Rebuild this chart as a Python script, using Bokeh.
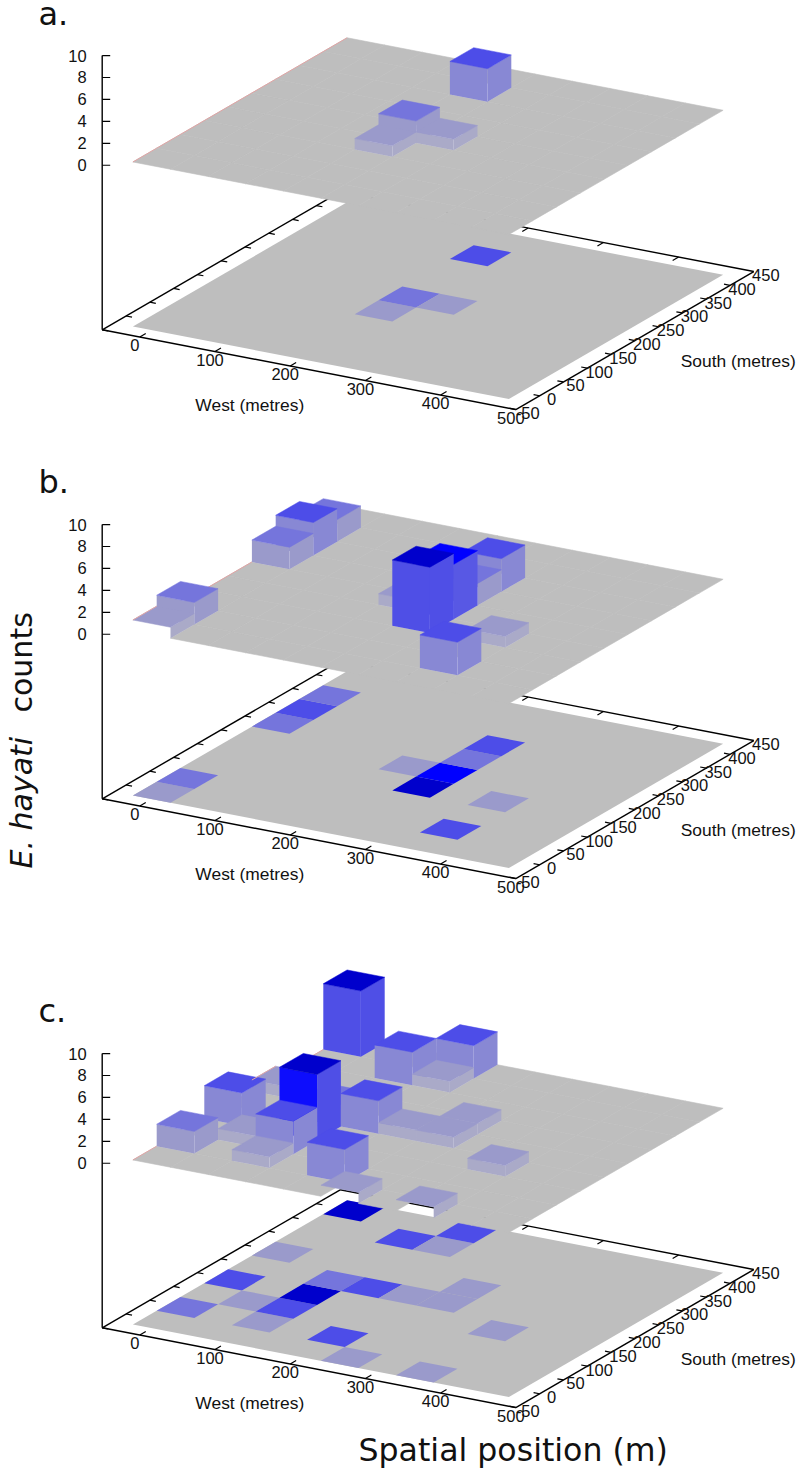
from math import pi
from bokeh.embed import file_html
from bokeh.resources import INLINE
from bokeh.plotting import figure
from bokeh.models import Range1d
from bokeh.core.properties import value

# ---- data: E. hayati counts per 50 m grid cell
west_a = [200, 200, 200, 250]
south_a = [150, 200, 350, 200]
count_a = [1, 2, 3, 1]

west_b = [0, 0, 0, 0, 0, 200, 250, 250, 250, 250, 350, 350]
south_b = [0, 50, 250, 300, 350, 200, 150, 200, 250, 300, 50, 150]
count_b = [1, 2, 2, 3, 2, 1, 6, 5, 2, 3, 3, 1]

west_c = [0, 0, 0, 0, 50, 100, 100, 100, 100, 100, 150, 150, 150, 200, 200, 250, 250, 250, 350, 350]
south_c = [50, 150, 250, 400, 100, 50, 100, 150, 200, 350, 200, 350, 400, 50, 200, 0, 200, 250, 0, 150]
count_c = [2, 3, 1, 6, 1, 1, 3, 6, 2, 3, 3, 1, 3, 3, 1, 1, 1, 1, 1, 1]

panel_letters = ["a.", "b.", "c."]
west_ticks = [0, 100, 200, 300, 400, 500]
south_ticks = [-50, 0, 50, 100, 150, 200, 250, 300, 350, 400, 450]
count_ticks = [0, 2, 4, 6, 8, 10]

# ---- styling
GREY = "#bebebe"
EDGE = "#e0a4a4"
TOP = {1: "#9a9acb", 2: "#7575dc", 3: "#4d4de8", 5: "#0000ff", 6: "#0000cc"}
SIDE = {1: "#aaaac8", 2: "#9a9acb", 3: "#8888d4", 5: "#5858e4", 6: "#4f4fe6"}
FRONT_OVERRIDE = {(2, 100, 150): "#0d0dfd"}
TICK_FONT = value("Liberation Sans")
BIG_FONT = value("DejaVu Sans")

# ---- projection (gnuplot style oblique view)
ORIGIN_X = 101.7
ZBASE = -15.0


def project(x, y, z, oy):
    a, b = x + 50.0, y + 50.0
    return (ORIGIN_X + 0.752 * a + 0.476 * b,
            oy + 0.145 * a - 0.276 * b - (z - ZBASE) * 10.97)


p = figure(width=799, height=1472, output_backend="svg", toolbar_location=None,
           x_range=Range1d(0, 799), y_range=Range1d(1472, 0),
           x_axis_location=None, y_axis_location=None, min_border=0,
           outline_line_color=None, background_fill_color="white")
p.grid.visible = False
p.styles = {"position": "absolute", "left": "0px", "top": "0px"}


def quad(c, oy):
    pts = [project(x, y, z, oy) for x, y, z in c]
    return [q[0] for q in pts], [q[1] for q in pts]


def draw_bars(idx, bars, oy):
    # the surface has no wall along its front edge (south = 0)
    qx, qy, qc, qa = [], [], [], []
    for w, s, n in bars:
        x0, x1, y0, y1 = w - 25, w + 25, s - 25, s + 25
        if s > 0:
            a, b = quad([(x0, y0, 0), (x1, y0, 0), (x1, y0, n), (x0, y0, n)], oy)
            qx.append(a); qy.append(b); qc.append(FRONT_OVERRIDE.get((idx, w, s), SIDE[n])); qa.append(0.0)
        a, b = quad([(x1, y0, 0), (x1, y1, 0), (x1, y1, n), (x1, y0, n)], oy)
        qx.append(a); qy.append(b); qc.append(SIDE[n]); qa.append(0.0)
        a, b = quad([(x0, y0, n), (x1, y0, n), (x1, y1, n), (x0, y1, n)], oy)
        qx.append(a); qy.append(b); qc.append(TOP[n]); qa.append(1.0)
    if qx:
        p.patches(qx, qy, fill_color=qc, line_color=qc, line_alpha=qa, line_width=0.5)


def panel(idx, west, south, count, oy):
    # axes
    lx, ly = [], []

    def seg(A, B):
        pa, pb = project(*A, oy), project(*B, oy)
        lx.append([pa[0], pb[0]])
        ly.append([pa[1], pb[1]])

    seg((-50, -50, ZBASE), (500, -50, ZBASE))
    seg((500, -50, ZBASE), (500, 450, ZBASE))
    seg((-50, -50, ZBASE), (-50, 450, ZBASE))
    seg((-50, 450, ZBASE), (500, 450, ZBASE))
    seg((-50, -50, ZBASE), (-50, -50, 10))
    p.multi_line(lx, ly, line_color="#000000", line_width=1.4)

    tx, ty = [], []

    def tick(A, B):
        pa, pb = project(*A, oy), project(*B, oy)
        tx.append([pa[0], pb[0]])
        ty.append([pa[1], pb[1]])

    for w in west_ticks[:-1]:
        tick((w, -50, ZBASE), (w, -37.5, ZBASE))
        tick((w, 450, ZBASE), (w, 437.5, ZBASE))
    for s in south_ticks[:-1]:
        tick((500, s, ZBASE), (492, s, ZBASE))
        tick((-50, s, ZBASE), (-42, s, ZBASE))
    for c in count_ticks:
        a = project(-50, -50, c, oy)
        tx.append([a[0], a[0] + 8])
        ty.append([a[1], a[1]])
    p.multi_line(tx, ty, line_color="#000000", line_width=1.2)

    # tick labels
    xs, ys, ts = [], [], []
    for w in west_ticks:
        a = project(w, -50, ZBASE, oy)
        xs.append(a[0] - 5); ys.append(a[1] + 8); ts.append(str(w))
    for s in south_ticks:
        a = project(500, s, ZBASE, oy)
        xs.append(a[0] + 12); ys.append(a[1] + 3.5); ts.append(str(s))
    p.text(xs, ys, text=ts, text_font=TICK_FONT, text_font_size="16.5px", text_color="#111111",
           text_align="center", text_baseline="middle")
    zx, zy, zt = [], [], []
    for c in count_ticks:
        a = project(-50, -50, c, oy)
        zx.append(a[0] - 15.5); zy.append(a[1]); zt.append(str(c))
    p.text(zx, zy, text=zt, text_font=TICK_FONT, text_font_size="16.5px", text_color="#111111",
           text_align="right", text_baseline="middle")
    p.text([249.3], [oy + 74.7], text=["West (metres)"], text_font=TICK_FONT, text_font_size="17.4px",
           text_color="#111111", text_align="center", text_baseline="middle")
    p.text([737.7], [oy + 30.7], text=["South (metres)"], text_font=TICK_FONT, text_font_size="17.4px",
           text_color="#111111", text_align="center", text_baseline="middle")

    # lower map
    bx, by = quad([(-25, -25, ZBASE), (475, -25, ZBASE), (475, 425, ZBASE), (-25, 425, ZBASE)], oy)
    p.patch(bx, by, fill_color=GREY, line_color=None)
    px_, py_, cols = [], [], []
    for w, s, n in zip(west, south, count):
        a, b = quad([(w - 25, s - 25, ZBASE), (w + 25, s - 25, ZBASE), (w + 25, s + 25, ZBASE), (w - 25, s + 25, ZBASE)], oy)
        px_.append(a); py_.append(b); cols.append(TOP[n])
    p.patches(px_, py_, fill_color=cols, line_color=None)

    # upper surface: floor cells, open under every bar
    heights = {(w, s): n for w, s, n in zip(west, south, count)}
    fx, fy = [], []
    for w in range(0, 500, 50):
        for s in range(0, 450, 50):
            if (w, s) not in heights:
                a, b = quad([(w - 25, s - 25, 0), (w + 25, s - 25, 0), (w + 25, s + 25, 0), (w - 25, s + 25, 0)], oy)
                fx.append(a); fy.append(b)
    p.patches(fx, fy, fill_color=GREY, line_color=GREY, line_width=0.6)

    # thin edge of the surface along its west border, following the surface height
    ex, ey, hx, hy = [], [], [], []
    for s in range(0, 450, 50):
        h = heights.get((0, s), 0)
        a, b = quad([(-25, s - 25, h), (-25, s + 25, h)], oy)
        if h == 0:
            ex.append(a); ey.append(b)
        elif h == 1:
            hx.append(a); hy.append(b)
    if ex:
        p.multi_line(ex, ey, line_color=EDGE, line_width=1)

    # bars, far to near
    order = sorted(zip(west, south, count), key=lambda t: (t[0], -t[1]))
    draw_bars(idx, [t for t in order if t[0] == 0], oy)
    if hx:
        p.multi_line(hx, hy, line_color=EDGE, line_width=1)
    draw_bars(idx, [t for t in order if t[0] > 0], oy)


panel(0, west_a, south_a, count_a, 329.3)
panel(1, west_b, south_b, count_b, 798.3)
panel(2, west_c, south_c, count_c, 1327.3)

# big labels
p.text([38, 38, 38], [13, 481, 1010], text=panel_letters, text_font=BIG_FONT, text_font_size="32px",
       text_color="#111111", text_align="left", text_baseline="alphabetic")
p.text([358], [1449.5], text=["Spatial position (m)"], text_font=BIG_FONT, text_font_size="31.6px",
       text_color="#111111", text_align="left", text_baseline="alphabetic")
p.text([21], [868], text=["E. hayati"], angle=pi / 2, text_font=BIG_FONT, text_font_size="30px",
       text_font_style="italic", text_color="#111111", text_align="left", text_baseline="alphabetic")
p.text([21], [712], text=["counts"], angle=pi / 2, text_font=BIG_FONT, text_font_size="30px",
       text_color="#111111", text_align="left", text_baseline="alphabetic")

open("out.html", "w").write(file_html(p, INLINE))
